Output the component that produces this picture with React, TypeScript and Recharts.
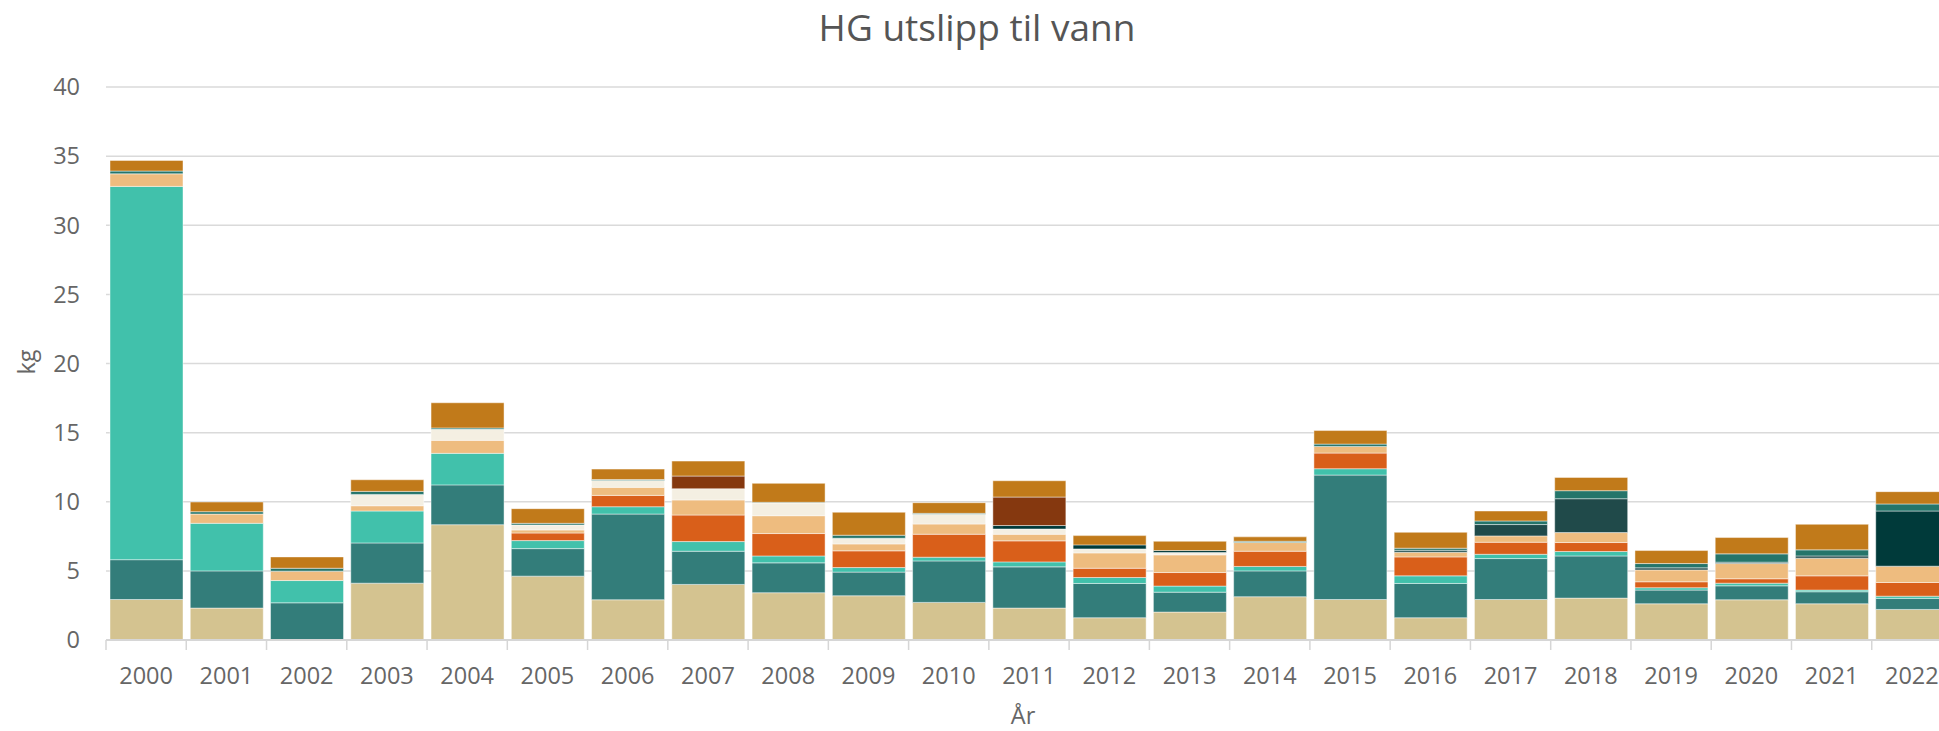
import React from "react";
import { BarChart, Bar, XAxis, YAxis, CartesianGrid } from "recharts";

const years = [
  "2000", "2001", "2002", "2003", "2004", "2005", "2006", "2007", "2008", "2009", "2010", "2011",
  "2012", "2013", "2014", "2015", "2016", "2017", "2018", "2019", "2020", "2021", "2022",
];

// kg per series, stacked bottom to top
const tan = [2.93, 2.31, 0, 4.11, 8.34, 4.62, 2.91, 4.02, 3.42, 3.2, 2.72, 2.31, 1.61, 2.02, 3.13, 2.93, 1.61, 2.93, 3.03, 2.62, 2.91, 2.62, 2.21];
const teal = [2.88, 2.69, 2.69, 2.91, 2.88, 1.99, 6.2, 2.4, 2.16, 1.71, 3.0, 2.98, 2.48, 1.44, 1.87, 9.0, 2.48, 2.96, 3.05, 0.99, 1.01, 0.87, 0.8];
const turquoise = [27.0, 3.44, 1.61, 2.31, 2.28, 0.58, 0.53, 0.7, 0.5, 0.33, 0.27, 0.36, 0.43, 0.44, 0.32, 0.46, 0.55, 0.31, 0.32, 0.17, 0.19, 0.12, 0.16];
const orange = [0, 0, 0, 0, 0, 0.55, 0.82, 1.92, 1.62, 1.21, 1.66, 1.52, 0.67, 0.98, 1.1, 1.13, 1.37, 0.87, 0.65, 0.43, 0.32, 1.03, 0.99];
const lightOrange = [0.91, 0.67, 0.68, 0.38, 0.94, 0.22, 0.58, 1.09, 1.29, 0.5, 0.74, 0.48, 1.11, 1.28, 0.63, 0.48, 0.34, 0.46, 0.72, 0.86, 1.1, 1.28, 1.18];
const cream = [0, 0, 0, 0.82, 0.8, 0.36, 0.5, 0.81, 0.92, 0.41, 0.7, 0.38, 0.29, 0.17, 0, 0, 0, 0, 0, 0, 0, 0, 0];
const darkSlate = [0, 0, 0, 0, 0, 0, 0, 0, 0, 0, 0, 0, 0, 0, 0, 0, 0.14, 0.82, 2.45, 0.15, 0.1, 0.16, 0];
const darkest = [0, 0, 0, 0, 0, 0, 0, 0, 0, 0, 0, 0.25, 0.29, 0.14, 0, 0, 0, 0, 0, 0, 0, 0, 3.99];
const darkBrown = [0, 0, 0, 0, 0, 0, 0, 0.92, 0, 0, 0, 2.06, 0, 0, 0, 0, 0, 0, 0, 0, 0, 0, 0];
const green = [0.2, 0.17, 0.21, 0.22, 0.1, 0.12, 0.07, 0, 0.05, 0.22, 0.07, 0, 0, 0, 0.09, 0.17, 0.15, 0.26, 0.58, 0.31, 0.6, 0.44, 0.51];
const brown = [0.77, 0.7, 0.82, 0.84, 1.82, 1.06, 0.75, 1.08, 1.37, 1.66, 0.77, 1.18, 0.67, 0.67, 0.32, 0.98, 1.15, 0.72, 0.96, 0.94, 1.18, 1.85, 0.89];

const yTicks = [0, 5, 10, 15, 20, 25, 30, 35, 40];

const series = [
  { key: "tan", values: tan, color: "#d4c390" },
  { key: "teal", values: teal, color: "#337d7a" },
  { key: "turquoise", values: turquoise, color: "#41c1ab" },
  { key: "orange", values: orange, color: "#d95f1a" },
  { key: "lightOrange", values: lightOrange, color: "#eebc7f" },
  { key: "cream", values: cream, color: "#f4efe2" },
  { key: "darkSlate", values: darkSlate, color: "#204a4a" },
  { key: "darkest", values: darkest, color: "#003a3a" },
  { key: "darkBrown", values: darkBrown, color: "#85380f" },
  { key: "green", values: green, color: "#25756a" },
  { key: "brown", values: brown, color: "#c17a1a" },
];

const data = years.map((year, i) => {
  const row: Record<string, number | string> = { year };
  series.forEach((s) => (row[s.key] = s.values[i]));
  return row;
});

const CHART_W = 1975;
const CHART_H = 731;
const PLOT_LEFT = 106;
const PLOT_RIGHT = 1952;
const BAND = (PLOT_RIGHT - PLOT_LEFT) / years.length;
const FONT = "'Open Sans', sans-serif";

function YearTick(props: any) {
  const { x, y, payload } = props;
  return (
    <g>
      <line x1={x - BAND / 2} x2={x - BAND / 2} y1={y} y2={y + 10} stroke="#d6d6d6" strokeWidth={1.5} />
      <text x={x} y={y + 44} textAnchor="middle" fill="#666666" fontSize={23.5} fontFamily={FONT}>
        {payload.value}
      </text>
    </g>
  );
}

export default function App() {
  return (
    <div
      style={{
        position: "fixed",
        left: 0,
        top: 0,
        width: 1939,
        height: 731,
        overflow: "hidden",
        background: "#ffffff",
      }}
    >
      <BarChart
        width={CHART_W}
        height={CHART_H}
        data={data}
        margin={{ top: 87, right: CHART_W - PLOT_RIGHT, bottom: 0, left: 0 }}
        barSize={73}
      >
        <CartesianGrid vertical={false} stroke="#dadada" strokeWidth={1.5} />
        <XAxis
          dataKey="year"
          interval={0}
          height={91}
          tickSize={0}
          tickMargin={0}
          tick={<YearTick />}
          tickLine={false}
          axisLine={{ stroke: "#d6d6d6", strokeWidth: 2 }}
        />
        <YAxis
          width={PLOT_LEFT}
          domain={[0, 40]}
          ticks={yTicks}
          interval={0}
          tickSize={0}
          tickMargin={26}
          axisLine={false}
          tickLine={false}
          tick={{ fill: "#666666", fontSize: 23.5, fontFamily: FONT }}
        />
        {series.map((s) => (
          <Bar
            key={s.key}
            dataKey={s.key}
            stackId="a"
            fill={s.color}
            stroke="#ffffff"
            strokeOpacity={0.45}
            strokeWidth={1}
            isAnimationActive={false}
          />
        ))}
      </BarChart>
      <svg
        width={1939}
        height={731}
        style={{ position: "absolute", left: 0, top: 0, pointerEvents: "none" }}
      >
        <text x={977} y={41} textAnchor="middle" fill="#555555" fontSize={37} fontFamily={FONT}>
          HG utslipp til vann
        </text>
        <text
          x={35}
          y={362}
          transform="rotate(-90 35 362)"
          textAnchor="middle"
          fill="#666666"
          fontSize={23.5}
          fontFamily={FONT}
        >
          kg
        </text>
        <text x={1023} y={724} textAnchor="middle" fill="#666666" fontSize={23.5} fontFamily={FONT}>
          År
        </text>
      </svg>
    </div>
  );
}
